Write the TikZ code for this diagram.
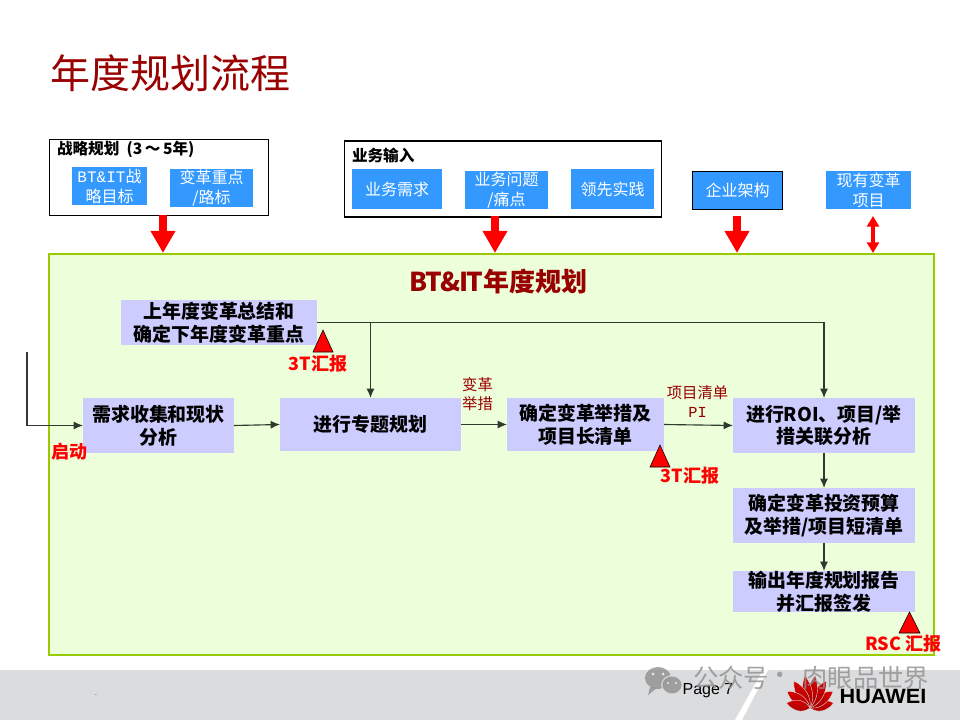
\documentclass[tikz,border=0pt]{standalone}
\usepackage{fontspec}
\setmainfont{Noto Sans CJK SC}
\newfontfamily\latinsans{Liberation Sans}
\newfontfamily\latinmono{Liberation Mono}
\usetikzlibrary{arrows.meta}
\definecolor{titlered}{HTML}{990000}
\definecolor{bluebox}{HTML}{3399FF}
\definecolor{lav}{HTML}{CCCCFF}
\definecolor{mainfill}{HTML}{ECFEDA}
\definecolor{mainline}{HTML}{99CC00}
\definecolor{band}{HTML}{DBDCDE}
\definecolor{flowline}{HTML}{2F3A2F}
\definecolor{petal}{HTML}{D9101C}
\definecolor{wmgray}{HTML}{8F8F8F}
\tikzset{
  x=0.75pt,y=-0.75pt,
  every node/.style={inner sep=0pt,outer sep=0pt,align=center},
  frame/.style={draw=black,line width=0.9pt,fill=white},
  blue/.style={fill=bluebox,text=white,font=\fontsize{12}{15}\selectfont},
  stepbox/.style={fill=lav,text=black,font=\bfseries\fontsize{14.2}{17}\selectfont},
  flow/.style={draw=flowline,line width=0.85pt,-{Latex[length=7pt,width=6pt]}},
  bigarrow/.style={draw=red,line width=6pt,-{Triangle[length=16.5pt,width=17.5pt]}},
  twoarrow/.style={draw=red,line width=3.4pt,{Triangle[length=8pt,width=9pt]}-{Triangle[length=8pt,width=9pt]}},
  flag/.style={fill=red,draw=black,line width=0.4pt},
  report/.style={text=red,font=\bfseries\fontsize{13.5}{16}\selectfont},
  flowlabel/.style={text=titlered,font=\fontsize{11.5}{14.2}\selectfont},
  hdr/.style={text=black,font=\bfseries\fontsize{11.7}{14}\selectfont},
  wmtext/.style={text=wmgray,font=\fontsize{19}{22}\selectfont},
}
\begin{document}
\begin{tikzpicture}
\useasboundingbox (0,0) rectangle (960,720);
% footer
\fill[band] (0,670) rectangle (960,720);
\fill[white] (763,670) -- (768,670) -- (742,720) -- (735,720) -- cycle;
\node[font=\latinsans\fontsize{12}{14}\selectfont,text=black] (page) at (708,691) {Page 7};
\node[font=\fontsize{5}{6}\selectfont] (dot) at (96,695) {.};
% logo
\foreach \a/\l/\w in {-78/0.8/1.0,-54/0.95/1.0,-31/1.05/1.0,-9/1.1/0.9,9/1.1/0.9,31/1.05/1.0,54/0.95/1.0,78/0.8/1.0}{
  \begin{scope}[shift={(810,708)},rotate=\a,xscale=\w,yscale=\l]
    \shade[top color=red!85!black,bottom color=red!65!black,draw=band,line width=0.3pt] (0,0) .. controls (-7,-8) and (-7,-20) .. (0,-30) .. controls (7,-20) and (7,-8) .. (0,0);
  \end{scope}
}
\node[font=\latinsans\bfseries\fontsize{15.5}{16}\selectfont,text=black] (hw) at (883,696) {\scalebox{1.05}[1]{HUAWEI}};
% watermark
\begin{scope}[opacity=.8]
\fill[wmgray] (658,678) ellipse (13 and 11);
\fill[wmgray] (650,687) -- (648,695) -- (657,688) -- cycle;
\fill[band] (672,685) ellipse (11 and 10);
\fill[wmgray] (672,685) ellipse (9.5 and 8.5);
\fill[white] (653,674) circle (1.5) (663,674) circle (1.5) (668,683) circle (1.2) (676,683) circle (1.2);
\node[wmtext,anchor=west] (wm1) at (693,678) {公众号};
\node[wmtext] (wm2) at (780,678) {·};
\node[wmtext,anchor=east] (wm3) at (929,678) {肉眼品世界};
\end{scope}
% title
\node[text=titlered,font=\fontsize{30}{34}\selectfont,anchor=west] (title) at (50,73) {年度规划流程};
% upper frames
\node[frame,anchor=north west,minimum width=164.25pt,minimum height=57pt] (strat) at (49.5,139.5) {};
\node[frame,anchor=north west,minimum width=237.75pt,minimum height=57pt] (biz) at (344.5,141) {};
\node[hdr,anchor=west] (strath) at (57,149) {战略规划\ \ (3\,～\,5年)};
\node[hdr,anchor=west] (bizh) at (352,155) {业务输入};
\node[blue,minimum width=56.25pt,minimum height=28.5pt] (g1) at (109.5,186) {{\latinmono BT\&IT}战\\略目标};
\node[blue,minimum width=62.25pt,minimum height=28.5pt] (g2) at (211.5,188) {变革重点\\/路标};
\node[blue,minimum width=67.5pt,minimum height=30pt] (b1) at (397,189) {业务需求};
\node[blue,minimum width=62.25pt,minimum height=28.5pt] (b2) at (506.5,190) {业务问题\\/痛点};
\node[blue,minimum width=62.25pt,minimum height=30pt] (b3) at (612.5,189) {领先实践};
\node[blue,draw=black,line width=0.9pt,minimum width=67.5pt,minimum height=28.5pt] (ea) at (737.5,190.5) {企业架构};
\node[blue,minimum width=63.75pt,minimum height=28.5pt] (cur) at (868.5,190) {现有变革\\项目};
% main
\node[draw=mainline,fill=mainfill,line width=1.5pt,anchor=north west,minimum width=663.75pt,minimum height=300.75pt] (main) at (49,254) {};
\node[text=titlered,font=\bfseries\fontsize{19.5}{22}\selectfont] (mt) at (498.5,282) {{\addfontfeature{LetterSpace=-6}BT\&IT}年度规划};
% big arrows
\coordinate (a1) at (163,253); \coordinate (a2) at (495,253); \coordinate (a3) at (737,253);
\coordinate (a4t) at (873,216); \coordinate (a4b) at (873,253);
\draw[bigarrow] (strat.south -| a1) -- (a1);
\coordinate (a2s) at (495,216); \draw[bigarrow] (a2s) -- (a2);
\coordinate (a3s) at (737,216); \draw[bigarrow] (a3s) -- (a3);
\draw[twoarrow] (a4t) -- (a4b);
% steps
\node[stepbox,minimum width=147pt,minimum height=33.75pt] (top) at (219,322.5) {上年度变革总结和\\确定下年度变革重点};
\node[stepbox,minimum width=113.25pt,minimum height=41.25pt] (need) at (158.5,425.5) {需求收集和现状\\分析};
\node[stepbox,minimum width=135.75pt,minimum height=39.75pt] (prog) at (370.5,424.5) {进行专题规划};
\node[stepbox,minimum width=117.75pt,minimum height=39.75pt] (meas) at (585.5,424.5) {确定变革举措及\\项目长清单};
\node[stepbox,minimum width=136.5pt,minimum height=41.25pt] (roi) at (824,425.5) {进行ROI、项目/举\\措关联分析};
\node[stepbox,minimum width=136.5pt,minimum height=41.25pt] (bud) at (824,515.5) {确定变革投资预算\\及举措/项目短清单};
\node[stepbox,minimum width=136.5pt,minimum height=29.25pt] (out) at (824,591.5) {输出年度规划报告\\并汇报签发};
% connectors
\coordinate (start) at (27,352);
\draw[flow] (start) |- (need.west);
\draw[flow] (need.east) -- (prog.west);
\draw[flow] (prog.east) -- (meas.west);
\draw[flow] (meas.east) -- (roi.west);
\draw[flow] (roi.south) -- (bud.north);
\draw[flow] (bud.south) -- (out.north);
\draw[flow] (top.east) -| (roi.north);
\draw[flow] (top.east -| prog.north) -- (prog.north);
% flags
\coordinate (f1) at (323,330); \coordinate (f2) at (660,445); \coordinate (f3) at (909.5,612);
\draw[flag] (f1) -- ++(10,22) -- ++(-20,0) -- cycle;
\draw[flag] (f2) -- ++(10,22) -- ++(-20,0) -- cycle;
\draw[flag] (f3) -- ++(10.5,21) -- ++(-21,0) -- cycle;
% labels
\node[report] (r1) at (318,364) {3T汇报};
\node[report] (r2) at (690,476) {3T汇报};
\node[report] (r3) at (903.5,644) {RSC 汇报};
\node[report] (r4) at (69.5,452) {启动};
\node[flowlabel] (l1) at (477.5,394) {变革\\举措};
\node[flowlabel] (l2) at (697.5,402) {项目清单\\{\latinmono PI}};
\end{tikzpicture}
\end{document}
